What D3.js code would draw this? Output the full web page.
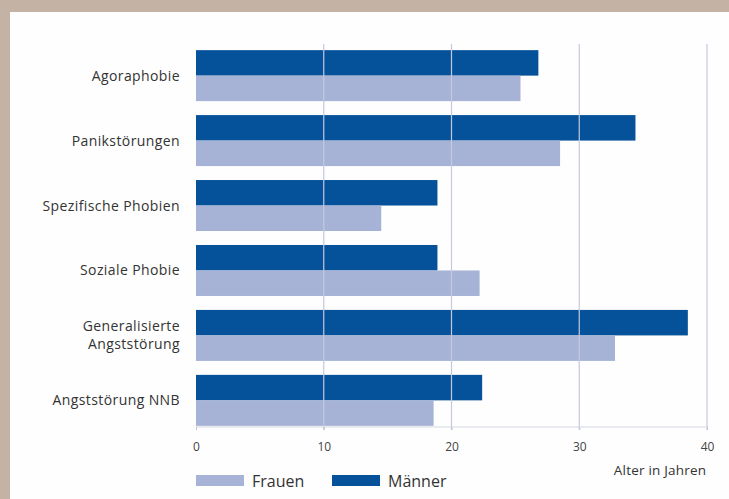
<!DOCTYPE html>
<html>
<head>
<meta charset="utf-8">
<script src="https://cdn.jsdelivr.net/npm/d3@7"></script>
<style>
  body { margin: 0; background: #c4b3a5; }
  svg { display: block; }
</style>
</head>
<body>
<div id="container"></div>
<script>
// data (age of onset, years)
const categories = ["Agoraphobie", "Panikstörungen", "Spezifische Phobien", "Soziale Phobie", "Generalisierte Angststörung", "Angststörung NNB"];
const maenner = [26.8, 34.4, 18.9, 18.9, 38.5, 22.4];
const frauen = [25.4, 28.5, 14.5, 22.2, 32.8, 18.6];
const ticks = [0, 10, 20, 30, 40];
const series = ["Männer", "Frauen"];
const colors = { "Männer": "#06529a", "Frauen": "#a6b3d7" };

const width = 729, height = 499;
const font = "'Open Sans', Lato, sans-serif";

const svg = d3.select("#container").append("svg")
    .attr("width", width)
    .attr("height", height);

// white panel inside the beige frame
svg.append("rect")
    .attr("x", 10).attr("y", 12)
    .attr("width", width - 10).attr("height", height - 12)
    .attr("fill", "#fefefe");

const x = d3.scaleLinear().domain([0, 40]).range([196, 707]);
const y = d3.scaleBand().domain(categories).range([43, 433]).paddingInner(0.215).paddingOuter(0.11);
const ySub = d3.scaleBand().domain(series).range([0, y.bandwidth()]);

const rows = categories.map((c, i) => ({ cat: c, "Männer": maenner[i], "Frauen": frauen[i] }));

// bars
const g = svg.selectAll("g.cat")
    .data(rows)
    .join("g")
    .attr("class", "cat")
    .attr("transform", d => `translate(0,${y(d.cat)})`);

g.selectAll("rect")
    .data(d => series.map(s => ({ s: s, v: d[s] })))
    .join("rect")
    .attr("x", x(0))
    .attr("y", d => ySub(d.s))
    .attr("width", d => x(d.v) - x(0))
    .attr("height", ySub.bandwidth())
    .attr("fill", d => colors[d.s]);

// grid lines on top of bars
svg.selectAll("line.grid")
    .data(ticks.filter(t => t > 0))
    .join("line")
    .attr("class", "grid")
    .attr("x1", d => x(d)).attr("x2", d => x(d))
    .attr("y1", 44).attr("y2", 430)
    .attr("stroke", "#c4c9dc")
    .attr("stroke-width", 1.2);

// x axis
const xAxis = svg.append("g")
    .attr("transform", "translate(0,427)")
    .call(d3.axisBottom(x).tickValues(ticks).tickSize(3).tickPadding(12));
xAxis.select(".domain").attr("stroke", "#d6d8e2").attr("d", `M${x(0)},0H${x(40)}`);
xAxis.selectAll(".tick line").attr("stroke", "#c0c4d4");
xAxis.selectAll(".tick text")
    .attr("fill", "#444")
    .style("font-family", font)
    .style("font-size", "12px");

// category labels
svg.selectAll("text.cat")
    .data(categories)
    .join("text")
    .attr("class", "cat")
    .attr("text-anchor", "end")
    .attr("x", 180)
    .attr("fill", "#333")
    .style("font-family", font)
    .style("font-size", "14px")
    .style("letter-spacing", "0.4px")
    .each(function (d) {
        const cy = y(d) + y.bandwidth() / 2;
        const t = d3.select(this);
        if (d === "Generalisierte Angststörung") {
            t.append("tspan").attr("x", 180).attr("y", cy - 4).text("Generalisierte");
            t.append("tspan").attr("x", 180).attr("y", cy + 14).text("Angststörung");
        } else {
            t.attr("y", cy + 5).text(d);
        }
    });

// axis title
svg.append("text")
    .attr("x", 660).attr("y", 475)
    .attr("text-anchor", "middle")
    .attr("fill", "#333")
    .style("font-family", font)
    .style("font-size", "13.5px")
    .style("letter-spacing", "0.2px")
    .text("Alter in Jahren");

// legend
const legend = [{ s: "Frauen", x: 196 }, { s: "Männer", x: 332 }];
const lg = svg.selectAll("g.legend")
    .data(legend)
    .join("g")
    .attr("class", "legend")
    .attr("transform", d => `translate(${d.x},475)`);
lg.append("rect")
    .attr("width", 48).attr("height", 11)
    .attr("fill", d => colors[d.s]);
lg.append("text")
    .attr("x", 56).attr("y", 12)
    .attr("fill", "#333")
    .style("font-family", font)
    .style("font-size", "16px")
    .text(d => d.s);
</script>
</body>
</html>
